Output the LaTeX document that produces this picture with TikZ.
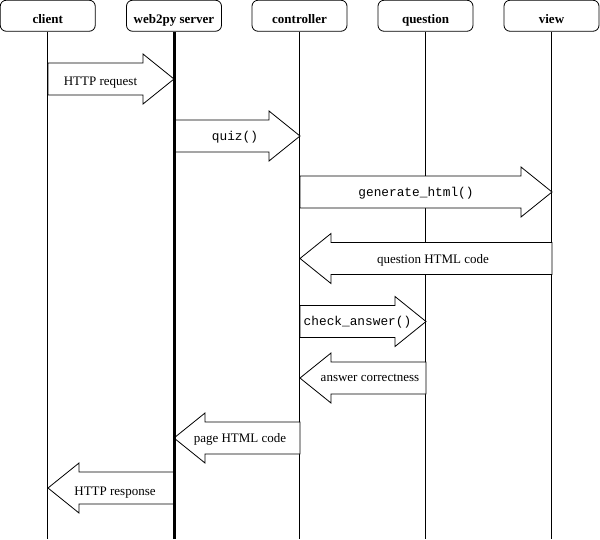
\documentclass[tikz,border=0pt]{standalone}
\usepackage{fontspec}
\setmainfont{Liberation Serif}
\setmonofont{Liberation Mono}
\begin{document}
\begin{tikzpicture}[x=1pt,y=-1pt,
  hdr/.style={draw,line width=0.8pt,rounded corners=6pt,minimum width=95pt,minimum height=31pt,inner sep=0pt,text height=14.5pt,text depth=0pt,font=\fontsize{13}{15}\selectfont\bfseries},
  life/.style={line width=0.8pt},
  thicklife/.style={line width=3pt},
  barrow/.style={draw,fill=white,line width=0.8pt},
  lbl/.style={inner sep=0pt,anchor=base,font=\fontsize{13}{15}\selectfont},
  code/.style={inner sep=0pt,anchor=base,font=\fontsize{12.8}{15}\selectfont\ttfamily}]
\useasboundingbox (0,0) rectangle (600,539);
\node[hdr] (client) at (47.75,15.75) {client};
\node[hdr] (server) at (174,15.75) {web2py server};
\node[hdr] (ctrl) at (299.5,15.75) {controller};
\node[hdr] (quest) at (425.5,15.75) {question};
\node[hdr] (view) at (551.5,15.75) {view};
\coordinate (bottom) at (0,539);
\draw[life] (client.south) -- (client.south |- bottom);
\draw[life] (ctrl.south) -- (ctrl.south |- bottom);
\draw[life] (quest.south) -- (quest.south |- bottom);
\draw[life] (view.south) -- (view.south |- bottom);
% #1 name, #2 from x, #3 to x, #4 center y, #5 label x, #6 label baseline, #7 style, #8 text
\newcommand\mybar[8]{%
  \pgfmathsetmacro\adir{#3>#2 ? 1 : -1}%
  \pgfmathsetmacro\axb{#3-31*\adir}%
  \draw[barrow] (#2,#4-16) -- (\axb,#4-16) -- (\axb,#4-25) -- (#3,#4) -- (\axb,#4+25) -- (\axb,#4+16) -- (#2,#4+16) -- cycle;
  \node[#7] (#1) at (#5,#6) {#8};}
\mybar{req}{48}{174}{79}{100.5}{85}{lbl}{HTTP request}
\mybar{quiz}{174}{300}{136}{235}{140.5}{code}{quiz()}
\mybar{gen}{300}{552}{192}{416}{196}{code}{generate\_html()}
\mybar{qhtml}{552}{300}{258.5}{433}{263}{lbl}{question HTML code}
\mybar{chk}{300}{426}{321.5}{357.5}{325}{code}{check\_answer()}
\mybar{corr}{426}{300}{378}{370}{381}{lbl}{answer correctness}
\mybar{page}{300}{174}{438}{240}{442}{lbl}{page HTML code}
\mybar{resp}{174}{48}{488}{115}{495}{lbl}{HTTP response}
\draw[thicklife] (server.south) -- (server.south |- bottom);
\end{tikzpicture}
\end{document}
